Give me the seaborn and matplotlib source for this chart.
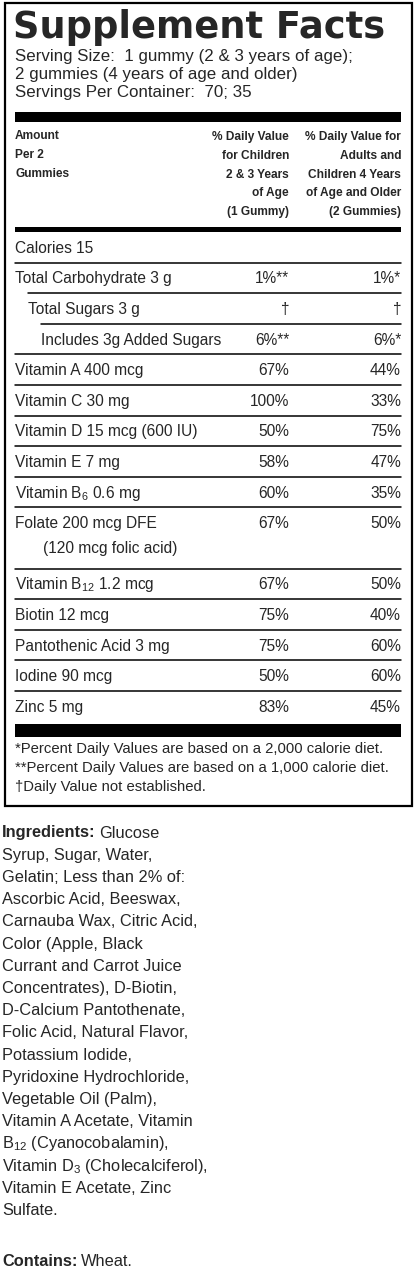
import matplotlib
matplotlib.use("Agg")
import matplotlib.pyplot as plt
import seaborn as sns

sns.set_style("white")
plt.rcParams["font.family"] = ["Liberation Sans", "DejaVu Sans"]
plt.rcParams["mathtext.fontset"] = "custom"
plt.rcParams["mathtext.rm"] = "Liberation Sans"

# ---- data ----
serving_lines = ["Serving Size:  1 gummy (2 & 3 years of age);",
                 "2 gummies (4 years of age and older)",
                 "Servings Per Container:  70; 35"]
header_left = ["Amount", "Per 2", "Gummies"]
header_kids = ["% Daily Value", "for Children", "2 & 3 Years", "of Age", "(1 Gummy)"]
header_adults = ["% Daily Value for", "Adults and", "Children 4 Years", "of Age and Older", "(2 Gummies)"]

nutrients = ["Calories 15", "Total Carbohydrate 3 g", "Total Sugars 3 g",
             "Includes 3g Added Sugars", "Vitamin A 400 mcg", "Vitamin C 30 mg",
             "Vitamin D 15 mcg (600 IU)", "Vitamin E 7 mg", "Vitamin B$_6$ 0.6 mg",
             "Folate 200 mcg DFE\n(120 mcg folic acid)", "Vitamin B$_{12}$ 1.2 mcg",
             "Biotin 12 mcg", "Pantothenic Acid 3 mg", "Iodine 90 mcg", "Zinc 5 mg"]
indent = [0, 0, 1, 2, 0, 0, 0, 0, 0, 0, 0, 0, 0, 0, 0]
dv_kids = ["", "1%**", "\u2020", "6%**", "67%", "100%", "50%", "58%", "60%", "67%",
           "67%", "75%", "75%", "50%", "83%"]
dv_adults = ["", "1%*", "\u2020", "6%*", "44%", "33%", "75%", "47%", "35%", "50%",
             "50%", "40%", "60%", "60%", "45%"]

footnotes = ["*Percent Daily Values are based on a 2,000 calorie diet.",
             "**Percent Daily Values are based on a 1,000 calorie diet.",
             "\u2020Daily Value not established."]

ingredients = ["Glucose", "Syrup, Sugar, Water,", "Gelatin; Less than 2% of:",
               "Ascorbic Acid, Beeswax,", "Carnauba Wax, Citric Acid,", "Color (Apple, Black",
               "Currant and Carrot Juice", "Concentrates), D-Biotin,",
               "D-Calcium Pantothenate,", "Folic Acid, Natural Flavor,",
               "Potassium Iodide,", "Pyridoxine Hydrochloride,", "Vegetable Oil (Palm),",
               "Vitamin A Acetate, Vitamin", "B$_{12}$ (Cyanocobalamin),",
               "Vitamin D$_3$ (Cholecalciferol),", "Vitamin E Acetate, Zinc", "Sulfate."]

W, H = 416, 1271
fig = plt.figure(figsize=(W / 100, H / 100), dpi=100)
ax = fig.add_axes([0, 0, 1, 1])
ax.set_xlim(0, W)
ax.set_ylim(H, 0)
ax.axis("off")
renderer = fig.canvas.get_renderer()

L, R = 15, 401
colk, cola = 289, 401
fs_row = 11.2

# outer box
ax.add_patch(plt.Rectangle((5, 3), 407, 803, fill=False, lw=1.6, ec="black"))

ax.text(L - 2, 28, "Supplement Facts", fontsize=26.5, fontweight="bold",
        family=["DejaVu Sans"], va="center", ha="left")
for i, s in enumerate(serving_lines):
    ax.text(L, 57 + i * 17.5, s, fontsize=12.2, va="center")

ax.add_patch(plt.Rectangle((L, 112), R - L, 10, color="black", lw=0))
for i, s in enumerate(header_left):
    ax.text(L, 136 + i * 19, s, fontsize=8.6, fontweight="bold", va="center")
for i, (k, a) in enumerate(zip(header_kids, header_adults)):
    y = 137 + i * 18.8
    ax.text(colk, y, k, fontsize=8.6, fontweight="bold", va="center", ha="right")
    ax.text(cola, y, a, fontsize=8.6, fontweight="bold", va="center", ha="right")
ax.add_patch(plt.Rectangle((L, 227), R - L, 5, color="black", lw=0))

rh = 30.6
y = 232
for i, name in enumerate(nutrients):
    parts = name.split("\n")
    ytxt = y + rh / 2 + 1
    x0 = L + indent[i] * 13
    ax.text(x0, ytxt, parts[0], fontsize=fs_row, va="center")
    if len(parts) > 1:
        ax.text(x0 + 28, ytxt + rh - 6, parts[1], fontsize=fs_row, va="center")
    ax.text(colk, ytxt, dv_kids[i], fontsize=fs_row, va="center", ha="right")
    ax.text(cola, ytxt, dv_adults[i], fontsize=fs_row, va="center", ha="right")
    y += rh * len(parts)
    if i < len(nutrients) - 1:
        ax.plot([L + indent[i + 1] * 13, R], [y, y], color="black", lw=1.1)

ax.add_patch(plt.Rectangle((L, 724), R - L, 13, color="black", lw=0))
for i, s in enumerate(footnotes):
    ax.text(L, 749 + i * 19, s, fontsize=10.7, va="center")


def label_then(xl, yl, bold, rest):
    t = ax.text(xl, yl, bold, fontsize=11.8, fontweight="bold", va="center")
    ext = t.get_window_extent(renderer)
    ax.text(ext.x1 + 4, yl, rest, fontsize=11.8, va="center")


iy = 833
label_then(2, iy, "Ingredients:", ingredients[0])
for i, s in enumerate(ingredients[1:], start=1):
    ax.text(2, iy + i * 22.2, s, fontsize=11.8, va="center")
label_then(2, 1262, "Contains:", "Wheat.")

fig.savefig("out.png", dpi=100, facecolor="white")
